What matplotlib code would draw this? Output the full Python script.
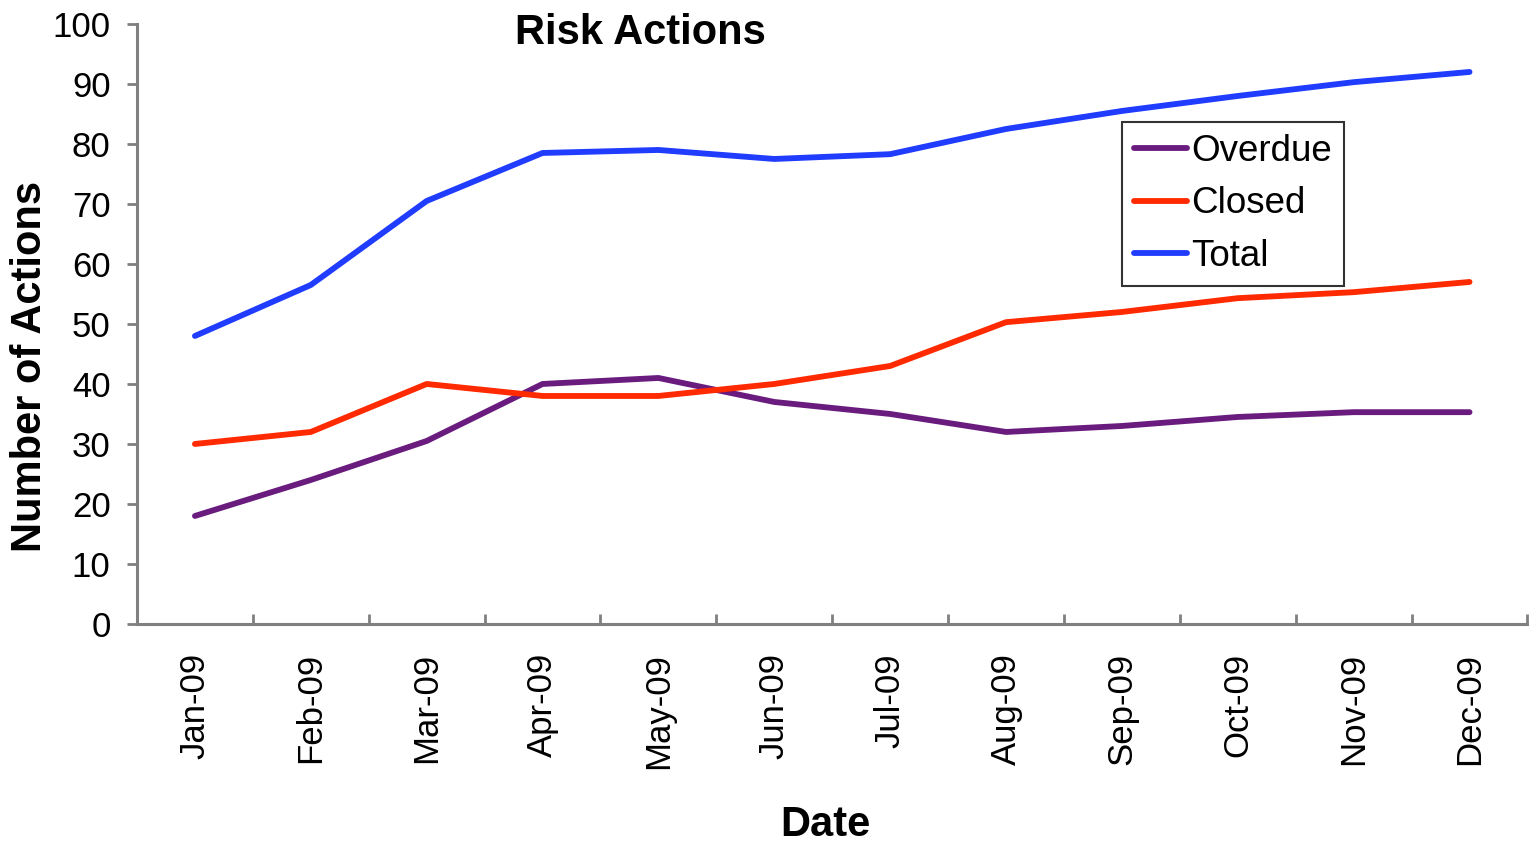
import matplotlib
matplotlib.use("Agg")
import matplotlib.pyplot as plt
import numpy as np

# données
mois = ["Jan-09", "Feb-09", "Mar-09", "Apr-09", "May-09", "Jun-09",
        "Jul-09", "Aug-09", "Sep-09", "Oct-09", "Nov-09", "Dec-09"]
overdue = [18, 24, 30.5, 40, 41, 37, 35, 32, 33, 34.5, 35.3, 35.3]
closed = [30, 32, 40, 38, 38, 40, 43, 50.3, 52, 54.3, 55.3, 57]
total = [48, 56.5, 70.5, 78.5, 79, 77.5, 78.3, 82.5, 85.5, 88, 90.3, 92]

plt.rcParams["font.family"] = ["Liberation Sans", "DejaVu Sans"]

fig = plt.figure(figsize=(15.29, 8.44), dpi=100)
ax = fig.add_axes([0.0896, 0.2607, 0.9094, 0.7109])

x = np.arange(len(mois))
ax.plot(x, overdue, color="#6a1b7e", lw=4.2, label="Overdue", solid_capstyle="round")
ax.plot(x, closed, color="#ff2a00", lw=4.2, label="Closed", solid_capstyle="round")
ax.plot(x, total, color="#1f3cff", lw=4.2, label="Total", solid_capstyle="round")

ax.set_xlim(-0.5, len(mois) - 0.5)
ax.set_ylim(0, 100)
ax.set_yticks(range(0, 101, 10))
ax.set_xticks(x)
ax.set_xticklabels(mois, rotation=90, fontsize=25)
ax.set_xticks(np.arange(-0.5, len(mois) - 0.4, 1), minor=True)
ax.tick_params(axis="x", which="major", length=0, pad=21)
ax.tick_params(axis="x", which="minor", direction="in", length=7, width=2, color="#808080")
ax.tick_params(axis="y", length=7, width=2, color="#808080", labelsize=25, pad=12)

for s in ["top", "right"]:
    ax.spines[s].set_visible(False)
for s in ["left", "bottom"]:
    ax.spines[s].set_color("#808080")
    ax.spines[s].set_linewidth(2.2)

# titres
fig.text(0.0196, 0.566, "Number of Actions", fontsize=30, fontweight="bold",
         rotation=90, ha="center", va="center")
fig.text(0.54, 0.022, "Date", fontsize=30, fontweight="bold", ha="center", va="center")
fig.text(0.419, 0.961, "Risk Actions", fontsize=30, fontweight="bold", ha="center", va="center")

leg = ax.legend(loc="upper left", bbox_to_anchor=(0.7338, 0.8555),
                bbox_transform=fig.transFigure, fontsize=26.5, frameon=True,
                fancybox=False, edgecolor="black", borderaxespad=0,
                handlelength=1.45, handletextpad=0.1, labelspacing=0.47,
                borderpad=0.33)
leg.get_frame().set_linewidth(1.5)

plt.savefig("out.png", dpi=100)
